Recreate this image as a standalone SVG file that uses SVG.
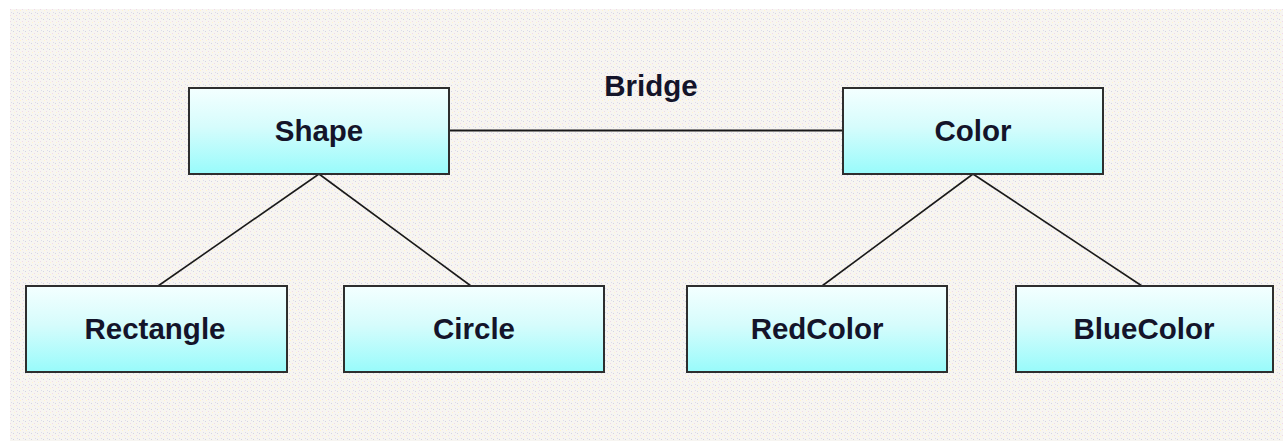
<svg xmlns="http://www.w3.org/2000/svg" width="1283" height="441" viewBox="0 0 1283 441">
  <defs>
    <linearGradient id="boxfill" x1="0" y1="0" x2="0" y2="1">
      <stop offset="0" stop-color="#f4ffff"/>
      <stop offset="0.45" stop-color="#d6fcfc"/>
      <stop offset="1" stop-color="#98fbfb"/>
    </linearGradient>
    <pattern id="dots" x="0" y="0" width="6" height="6" patternUnits="userSpaceOnUse">
      <rect width="6" height="6" fill="#f7f5f1"/>
      <rect x="1" y="1" width="1" height="1" fill="#d4d4e4"/>
      <rect x="4" y="3" width="1" height="1" fill="#f0d8e8"/>
      <rect x="2" y="4" width="1" height="1" fill="#fff4d0"/>
      <rect x="5" y="0" width="1" height="1" fill="#dcdcec"/>
    </pattern>
    <style>
      .box { fill: url(#boxfill); stroke: #2e2e2e; stroke-width: 2; }
      .lbl { font-family: "Liberation Sans", Arial, sans-serif; font-weight: bold; font-size: 29.5px; fill: #14142a; text-anchor: middle; }
      .conn { stroke: #1a1a1a; stroke-width: 1.6; fill: none; }
    </style>
  </defs>
  <rect x="0" y="0" width="1283" height="441" fill="#ffffff"/>
  <rect x="10" y="9" width="1273" height="432" fill="url(#dots)"/>

  <g id="connectors">
    <line class="conn" x1="449" y1="130.5" x2="843" y2="130.5" style="stroke-width:2"/>
    <line class="conn" x1="319" y1="174" x2="158" y2="286"/>
    <line class="conn" x1="319" y1="174" x2="471" y2="286"/>
    <line class="conn" x1="973" y1="174" x2="822" y2="286"/>
    <line class="conn" x1="973" y1="174" x2="1142" y2="286"/>
  </g>

  <g id="bridge-label">
    <text class="lbl" x="651" y="96">Bridge</text>
  </g>

  <g id="shape">
    <rect class="box" x="189" y="88" width="260" height="86"/>
    <text class="lbl" x="319" y="141">Shape</text>
  </g>
  <g id="color">
    <rect class="box" x="843" y="88" width="260" height="86"/>
    <text class="lbl" x="973" y="141">Color</text>
  </g>
  <g id="rectangle">
    <rect class="box" x="26" y="286" width="261" height="86"/>
    <text class="lbl" x="155" y="339">Rectangle</text>
  </g>
  <g id="circle">
    <rect class="box" x="344" y="286" width="260" height="86"/>
    <text class="lbl" x="474" y="339">Circle</text>
  </g>
  <g id="redcolor">
    <rect class="box" x="687" y="286" width="260" height="86"/>
    <text class="lbl" x="817" y="339">RedColor</text>
  </g>
  <g id="bluecolor">
    <rect class="box" x="1016" y="286" width="257" height="86"/>
    <text class="lbl" x="1144" y="339">BlueColor</text>
  </g>
</svg>
